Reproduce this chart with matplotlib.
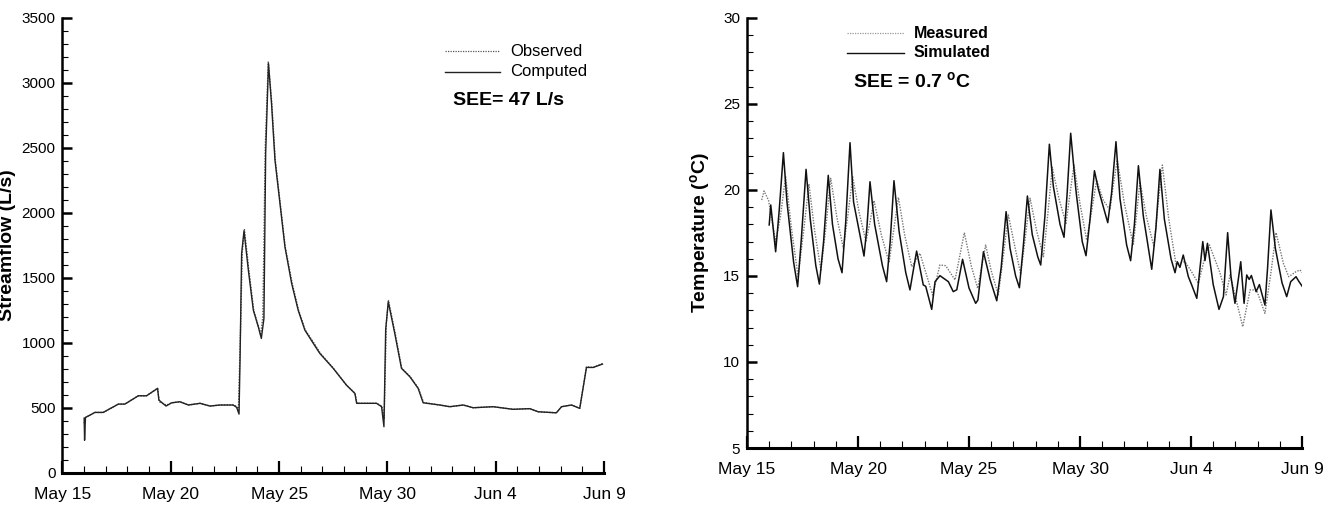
import numpy as np
import matplotlib
matplotlib.use("Agg")
import matplotlib.pyplot as plt
from matplotlib.ticker import MultipleLocator

plt.rcParams['font.family'] = ['Liberation Sans', 'DejaVu Sans']

# days after May 15
date_ticks = [0, 5, 10, 15, 20, 25]
date_labels = ['May 15', 'May 20', 'May 25', 'May 30', 'Jun 4', 'Jun 9']

# streamflow (L/s)
q_comp_t = [1.0, 1.02, 1.06, 1.5, 1.88, 2.58, 2.88, 3.5, 3.88, 4.39, 4.45, 4.78, 5.04,
            5.42, 5.81, 6.35, 6.81, 7.27, 7.88, 8.04, 8.15, 8.2, 8.27, 8.38, 8.58, 8.81,
            9.04, 9.18, 9.3, 9.38, 9.51, 9.65, 9.81, 10.04, 10.27, 10.58, 10.88, 11.19,
            11.58, 11.88, 12.5, 13.11, 13.5, 13.58, 14.5, 14.73, 14.84, 14.92, 15.04,
            15.34, 15.65, 16.04, 16.42, 16.65, 17.42, 17.88, 18.5, 18.96, 19.88, 20.8,
            21.57, 21.96, 22.8, 23.04, 23.5, 23.88, 24.19, 24.5, 24.93]
q_comp = [420, 250, 425, 464, 464, 528, 528, 592, 592, 649, 559, 513, 538,
          546, 521, 534, 513, 521, 521, 503, 451, 900, 1687, 1861, 1559, 1251,
          1123, 1033, 1187, 2456, 3148, 2841, 2405, 2072, 1738, 1456, 1251, 1097,
          995, 918, 803, 674, 610, 534, 534, 508, 354, 1100, 1315,
          1072, 803, 738, 649, 538, 521, 508, 521, 500, 508, 488,
          493, 469, 461, 508, 521, 495, 810, 810, 836]

q_obs_t = [1.0, 1.06, 1.5, 1.88, 2.58, 2.88, 3.5, 3.88, 4.39, 4.47, 4.8, 5.04,
           5.42, 5.81, 6.35, 6.81, 7.27, 7.9, 8.06, 8.12, 8.22, 8.3, 8.4, 8.6, 8.83,
           9.05, 9.15, 9.25, 9.36, 9.5, 9.66, 9.82, 10.05, 10.28, 10.6, 10.9, 11.2,
           11.6, 11.9, 12.5, 13.1, 13.5, 13.6, 14.5, 14.75, 14.85, 14.95, 15.05,
           15.35, 15.66, 16.05, 16.43, 16.67, 17.42, 17.88, 18.5, 18.96, 19.88, 20.8,
           21.57, 21.96, 22.8, 23.04, 23.5, 23.88, 24.19, 24.5, 24.93]
q_obs = [380, 425, 464, 464, 528, 528, 592, 592, 649, 545, 520, 538,
         546, 521, 534, 513, 521, 521, 508, 470, 1100, 1700, 1870, 1565, 1250,
         1120, 1060, 1200, 2500, 3160, 2850, 2410, 2075, 1740, 1460, 1250, 1100,
         1000, 920, 805, 676, 612, 534, 534, 512, 420, 1150, 1325,
         1080, 805, 740, 650, 540, 521, 508, 521, 500, 508, 488,
         493, 469, 461, 508, 521, 495, 815, 810, 840]

# stream temperature (deg C)
t_sim_t = [1.0, 1.07, 1.29, 1.45, 1.64, 1.8, 2.1, 2.28, 2.45, 2.66, 2.85, 3.1, 3.26,
           3.45, 3.66, 3.85, 4.1, 4.28, 4.45, 4.64, 4.8, 5.1, 5.27, 5.4, 5.54, 5.75,
           6.1, 6.29, 6.45, 6.62, 6.85, 7.15, 7.34, 7.64, 7.94, 8.05, 8.32, 8.47, 8.69,
           9.07, 9.29, 9.45, 9.71, 10.0, 10.3, 10.4, 10.65, 10.95, 11.25, 11.45, 11.67,
           11.85, 12.1, 12.27, 12.45, 12.63, 12.85, 13.1, 13.23, 13.42, 13.62, 13.8,
           14.1, 14.28, 14.42, 14.58, 14.8, 14.84, 15.1, 15.27, 15.45, 15.65, 15.83,
           16.25, 16.42, 16.62, 16.8, 17.1, 17.28, 17.45, 17.63, 17.85, 18.23, 18.42,
           18.6, 18.8, 19.1, 19.28, 19.38, 19.5, 19.65, 19.88, 20.03, 20.26,
           20.53, 20.63, 20.74, 21.0, 21.26, 21.46, 21.65, 21.8, 21.98, 22.24, 22.39,
           22.51, 22.62, 22.72, 22.93, 23.08, 23.33, 23.45, 23.6, 23.8, 24.1, 24.31,
           24.49, 24.73, 24.85, 25.02]
t_sim = [17.97, 19.13, 16.41, 18.8, 22.17, 19.3, 15.8, 14.38, 17.2, 21.2, 18.3, 15.6, 14.53,
         17.0, 20.85, 18.0, 16.0, 15.19, 18.2, 22.75, 19.3, 17.3, 16.16, 17.8, 20.48, 18.0,
         15.6, 14.67, 17.0, 20.54, 17.6, 15.2, 14.19, 16.45, 14.48, 14.4, 13.06, 14.67, 15.02,
         14.67, 14.09, 14.2, 15.97, 14.3, 13.41, 13.6, 16.41, 14.8, 13.56, 15.5, 18.74,
         16.6, 15.0, 14.32, 16.8, 19.65, 17.4, 16.1, 15.64, 18.5, 22.66, 20.2,
         18.0, 17.25, 19.8, 23.3, 20.2, 19.71, 17.0, 16.18, 18.3, 21.12, 20.03,
         18.1, 19.8, 22.81, 19.5, 16.8, 15.89, 18.0, 21.41, 18.5, 15.39, 17.8,
         21.2, 18.3, 16.0, 15.19, 15.83, 15.5, 16.22, 14.96, 14.48, 13.7,
         17.0, 15.9, 16.9, 14.5, 13.06, 13.8, 17.52, 14.96, 13.41, 15.83, 13.41,
         15.06, 14.8, 15.03, 14.09, 14.5, 13.31, 15.5, 18.84, 16.6, 14.6, 13.8,
         14.67, 14.96, 14.7, 14.38]

t_meas_t = [0.66, 0.77, 0.97, 1.29, 1.5, 1.74, 2.0, 2.3, 2.55, 2.79, 3.05, 3.33, 3.55,
            3.77, 4.05, 4.34, 4.55, 4.76, 5.05, 5.36, 5.55, 5.72, 6.05, 6.4, 6.6, 6.82,
            7.1, 7.42, 7.79, 8.36, 8.69, 8.95, 9.37, 9.79, 10.1, 10.39, 10.75,
            11.0, 11.32, 11.55, 11.77, 12.05, 12.33, 12.55, 12.75, 13.05, 13.35, 13.55,
            13.75, 14.05, 14.37, 14.55, 14.73, 15.0, 15.3, 15.5, 15.75, 16.05,
            16.35, 16.5, 16.68, 17.0, 17.4, 17.55, 17.7, 18.0, 18.33, 18.5, 18.71,
            19.0, 19.32, 19.73, 20.0, 20.33, 20.63, 20.83, 21.3, 21.58, 21.76,
            22.33, 22.66, 22.95, 23.33, 23.6, 23.83, 24.16, 24.4, 24.73, 24.9, 25.02]
t_meas = [19.42, 19.94, 19.4, 17.0, 18.4, 20.8, 17.8, 14.96, 17.6, 20.35, 17.6, 15.35, 17.8,
          20.68, 18.4, 16.61, 18.6, 20.77, 18.7, 17.0, 18.2, 19.38, 17.4, 15.78, 17.6, 19.57,
          17.4, 15.54, 16.32, 13.9, 15.64, 15.6, 14.77, 17.52, 15.6, 14.28, 16.8,
          15.3, 13.9, 16.2, 18.55, 16.8, 15.1, 17.4, 19.52, 17.6, 16.12, 18.6,
          21.32, 19.5, 18.06, 19.8, 21.45, 19.2, 17.09, 18.6, 20.58, 19.4,
          18.84, 20.3, 21.74, 19.2, 16.8, 18.6, 20.48, 18.4, 16.7, 19.0, 21.45,
          18.3, 15.7, 15.83, 15.3, 14.57, 16.12, 16.8, 15.2, 13.9, 15.06,
          12.05, 14.19, 14.19, 12.83, 15.2, 17.52, 15.74, 14.96, 15.25, 15.35, 15.19]

fig = plt.figure(figsize=(13.24, 5.14), dpi=100)
ax1 = fig.add_axes([0.0472, 0.0803, 0.409, 0.885])
ax2 = fig.add_axes([0.5642, 0.1284, 0.4192, 0.8366])

ax1.plot(q_obs_t, q_obs, color='#555555', lw=1.0, ls=(0, (1, 1)), zorder=2)
ax1.plot(q_comp_t, q_comp, color='#222222', lw=1.0, zorder=3)
ax2.plot(t_meas_t, t_meas, color='#777777', lw=1.0, ls=(0, (1, 1)), zorder=2)
ax2.plot(t_sim_t, t_sim, color='#111111', lw=1.1, zorder=3)

for ax in (ax1, ax2):
    ax.set_xlim(0, 25)
    ax.spines['top'].set_visible(False)
    ax.spines['right'].set_visible(False)
    ax.spines['left'].set_linewidth(1.8)
    ax.spines['bottom'].set_linewidth(2.2)
    ax.set_xticks(date_ticks)
    ax.set_xticklabels(date_labels, fontsize=12.5)
    ax.xaxis.set_minor_locator(MultipleLocator(1))
    ax.tick_params(axis='x', which='major', direction='in', length=9, width=1.6, pad=10)
    ax.tick_params(axis='x', which='minor', direction='in', length=5, width=0.8)
    ax.tick_params(axis='y', which='major', direction='in', length=7, width=1.8, labelsize=11, pad=5)
    ax.tick_params(axis='y', which='minor', direction='in', length=4, width=0.8)

ax1.set_ylim(0, 3500)
ax1.yaxis.set_major_locator(MultipleLocator(500))
ax1.yaxis.set_minor_locator(MultipleLocator(100))
ax1.set_ylabel('Streamflow (L/s)', fontweight='bold', fontsize=14)
ax1.yaxis.set_label_coords(-0.085, 0.5)

ax2.set_ylim(5, 30)
ax2.yaxis.set_major_locator(MultipleLocator(5))
ax2.yaxis.set_minor_locator(MultipleLocator(1))
ax2.set_ylabel(r'Temperature ($\mathregular{^o}$C)', fontweight='bold', fontsize=14, labelpad=8)

# legends drawn as short line samples with labels
ax1.plot([0.706, 0.808], [0.927, 0.927], transform=ax1.transAxes, color='#555555', lw=0.9, ls=(0, (1, 1)))
ax1.plot([0.706, 0.808], [0.881, 0.881], transform=ax1.transAxes, color='#222222', lw=1.0)
ax1.text(0.827, 0.927, 'Observed', transform=ax1.transAxes, fontsize=12, va='center')
ax1.text(0.827, 0.881, 'Computed', transform=ax1.transAxes, fontsize=12, va='center')
ax1.text(0.823, 0.818, 'SEE= 47 L/s', transform=ax1.transAxes, fontsize=14, fontweight='bold',
         ha='center', va='center')

ax2.plot([0.18, 0.282], [0.965, 0.965], transform=ax2.transAxes, color='#999999', lw=0.9, ls=(0, (1, 1)))
ax2.plot([0.18, 0.282], [0.919, 0.919], transform=ax2.transAxes, color='#111111', lw=1.0)
ax2.text(0.3, 0.965, 'Measured', transform=ax2.transAxes, fontsize=11.5, fontweight='bold', va='center')
ax2.text(0.3, 0.919, 'Simulated', transform=ax2.transAxes, fontsize=11.5, fontweight='bold', va='center')
ax2.text(0.297, 0.853, r'SEE = 0.7 $\mathregular{^o}$C', transform=ax2.transAxes, fontsize=14,
         fontweight='bold', ha='center', va='center')

fig.savefig('out.png', dpi=100)
